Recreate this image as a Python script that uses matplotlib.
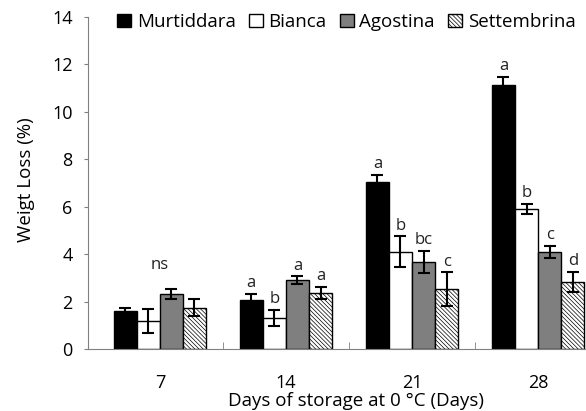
import matplotlib
matplotlib.use('Agg')
import matplotlib.pyplot as plt
from matplotlib.ticker import FixedLocator
import numpy as np

plt.rcParams['font.family'] = ['Open Sans', 'DejaVu Sans']
plt.rcParams['hatch.linewidth'] = 0.5
plt.rcParams['hatch.color'] = '#808080'

days = ['7', '14', '21', '28']
cultivars = ['Murtiddara', 'Bianca', 'Agostina', 'Settembrina']

# weight loss (%) and error, one list per cultivar
murtiddara = [1.62, 2.07, 7.05, 11.14]
bianca = [1.18, 1.30, 4.10, 5.90]
agostina = [2.32, 2.91, 3.67, 4.09]
settembrina = [1.74, 2.36, 2.53, 2.83]

murtiddara_err = [0.12, 0.25, 0.30, 0.35]
bianca_err = [0.52, 0.35, 0.65, 0.20]
agostina_err = [0.22, 0.15, 0.45, 0.25]
settembrina_err = [0.36, 0.25, 0.70, 0.42]

letters = [
    ['', 'a', 'a', 'a'],
    ['', 'b', 'b', 'b'],
    ['', 'a', 'bc', 'c'],
    ['', 'a', 'c', 'd'],
]

values = [murtiddara, bianca, agostina, settembrina]
errors = [murtiddara_err, bianca_err, agostina_err, settembrina_err]
colors = ['black', 'white', '#7f7f7f', 'white']
hatches = [None, None, None, '\\' * 8]

fig = plt.figure(figsize=(5.86, 4.11), dpi=100)
ax = fig.add_axes([88/586, 62/411, 498/586, 332/411])

x = np.arange(len(days))
w = 0.183
for i in range(4):
    pos = x + (i - 1.5) * w
    ax.bar(pos, values[i], w, color=colors[i], edgecolor='black', linewidth=1,
           hatch=hatches[i], label=cultivars[i], zorder=2)
    ax.errorbar(pos, values[i], yerr=errors[i], fmt='none', ecolor='black',
                elinewidth=1.5, capsize=4, capthick=1.5, zorder=3)
    for j in range(len(days)):
        if letters[i][j]:
            ax.text(pos[j], values[i][j] + errors[i][j] + 0.12, letters[i][j],
                    ha='center', va='bottom', fontsize=12, color='#222222')

ax.text(x[0], 3.55, 'ns', ha='center', va='center', fontsize=12, color='#222222')

ax.set_xlim(-0.57, 3.38)
ax.set_ylim(0, 14)
ax.set_yticks(np.arange(0, 15, 2))
ax.set_xticks(x)
ax.set_xticklabels(days)
ax.xaxis.set_minor_locator(FixedLocator([0.5, 1.5, 2.5]))
ax.tick_params(axis='x', which='major', length=0, pad=18, labelsize=13)
ax.tick_params(axis='x', which='minor', direction='in', length=5, color='#808080')
ax.tick_params(axis='y', direction='out', length=3, color='#808080', labelsize=13, pad=8)

for s in ['top', 'right']:
    ax.spines[s].set_visible(False)
for s in ['left', 'bottom']:
    ax.spines[s].set_color('#808080')

ax.set_ylabel('Weigt Loss (%)', fontsize=13.5)
ax.yaxis.set_label_coords(-(88 - 26) / 498, (349 - 180) / 332)
ax.yaxis.label.set_va('center')
ax.set_xlabel('Days of storage at 0 °C (Days)', fontsize=13.5)
ax.xaxis.set_label_coords((356 - 88) / 498, -(401 - 349) / 332)
ax.xaxis.label.set_va('center')

ax.legend(loc='center left', bbox_to_anchor=((117 - 88) / 498, (349 - 22) / 332),
          ncol=4, frameon=False, handlelength=0.75, handleheight=0.75,
          handletextpad=0.3, columnspacing=0.7, fontsize=13.5,
          borderaxespad=0, borderpad=0)

fig.savefig('out.png', dpi=100)
